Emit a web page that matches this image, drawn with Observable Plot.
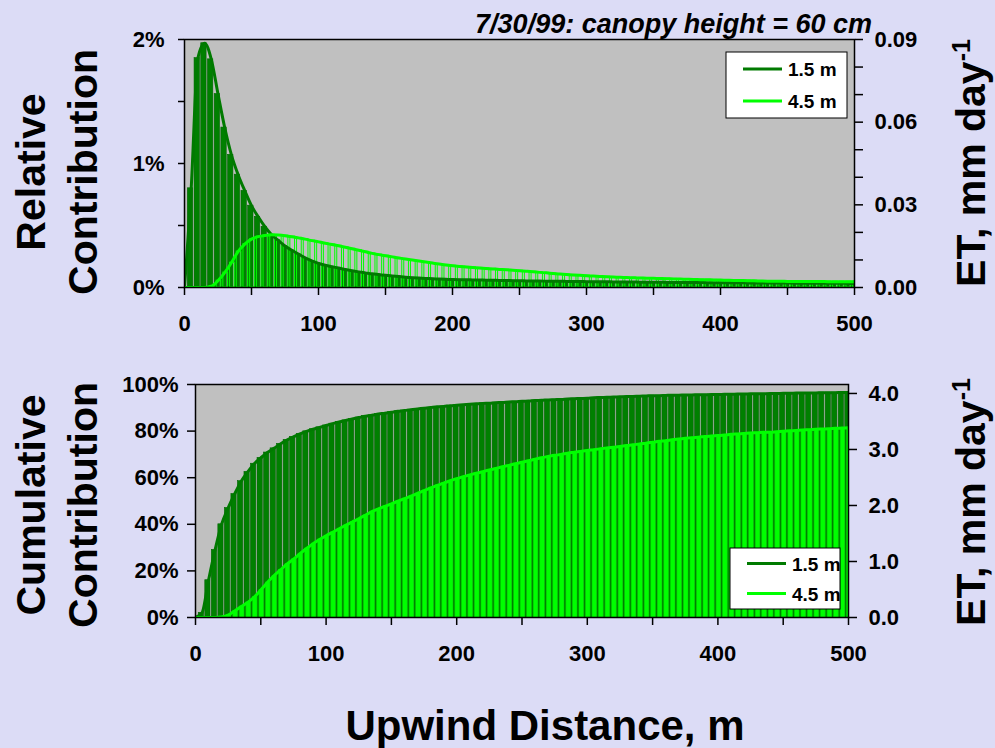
<!DOCTYPE html>
<html>
<head>
<meta charset="utf-8">
<script src="https://cdn.jsdelivr.net/npm/d3@7"></script>
<script src="https://cdn.jsdelivr.net/npm/@observablehq/plot@0.6"></script>
<style>
  body { margin: 0; background: #dcdcf6; }
  #fig { position: relative; width: 995px; height: 748px; background: #dcdcf6;
         font-family: "Liberation Sans", Arial, sans-serif; font-weight: bold; }
  #fig > svg { position: absolute; left: 0; }
</style>
</head>
<body>
<div id="fig"></div>
<script>
// Upwind distance of each footprint column, m
const distance = d3.range(0, 501, 5);

// Relative contribution (% per m) for the two measurement heights
const rel15 = [
  0, 0.8, 1.85, 1.97, 1.84, 1.56, 1.29, 1.07, 0.91, 0.78,
  0.66, 0.57, 0.49, 0.425, 0.38, 0.335, 0.30, 0.27, 0.24, 0.215,
  0.195, 0.18, 0.168, 0.157, 0.145, 0.135, 0.126, 0.118, 0.11, 0.104,
  0.098, 0.093, 0.088, 0.083, 0.079, 0.076, 0.073, 0.071, 0.068, 0.066,
  0.064, 0.063, 0.062, 0.061, 0.060, 0.059, 0.058, 0.057, 0.056, 0.055,
  0.054, 0.053, 0.052, 0.052, 0.051, 0.050, 0.050, 0.049, 0.048, 0.048,
  0.047, 0.047, 0.046, 0.046, 0.045, 0.045, 0.044, 0.044, 0.043, 0.043,
  0.042, 0.042, 0.041, 0.041, 0.041, 0.040, 0.040, 0.040, 0.039, 0.039,
  0.039, 0.038, 0.038, 0.038, 0.037, 0.037, 0.037, 0.036, 0.036, 0.036,
  0.036, 0.035, 0.035, 0.035, 0.035, 0.034, 0.034, 0.034, 0.034, 0.033,
  0.033
];
const rel45 = [
  0, 0, 0, 0, 0.01, 0.055, 0.12, 0.20, 0.29, 0.35,
  0.39, 0.41, 0.42, 0.425, 0.423, 0.418, 0.41, 0.40, 0.39, 0.378,
  0.368, 0.357, 0.347, 0.336, 0.324, 0.312, 0.30, 0.288, 0.275, 0.265,
  0.256, 0.247, 0.238, 0.229, 0.221, 0.213, 0.205, 0.197, 0.189, 0.182,
  0.175, 0.170, 0.166, 0.162, 0.158, 0.154, 0.150, 0.146, 0.143, 0.139,
  0.135, 0.131, 0.127, 0.122, 0.118, 0.113, 0.109, 0.105, 0.101, 0.098,
  0.095, 0.092, 0.089, 0.086, 0.084, 0.082, 0.080, 0.078, 0.077, 0.075,
  0.074, 0.072, 0.071, 0.069, 0.068, 0.066, 0.065, 0.063, 0.062, 0.061,
  0.060, 0.058, 0.057, 0.056, 0.055, 0.054, 0.052, 0.051, 0.050, 0.050,
  0.049, 0.049, 0.049, 0.048, 0.048, 0.048, 0.047, 0.047, 0.047, 0.047,
  0.047
];

// Cumulative contribution (%) for the two measurement heights
const cum15 = [
  0, 2, 16, 29, 40, 47, 53, 58.5, 62.5, 66,
  68.5, 70.8, 72.6, 74.5, 76.2, 77.5, 78.8, 79.9, 80.8, 81.6,
  82.4, 83.2, 83.9, 84.6, 85.2, 85.8, 86.4, 86.8, 87.3, 87.7,
  88.1, 88.5, 88.8, 89.2, 89.5, 89.8, 90.1, 90.4, 90.6, 90.9,
  91.1, 91.3, 91.5, 91.7, 91.9, 92.0, 92.2, 92.3, 92.5, 92.6,
  92.8, 92.9, 93.1, 93.2, 93.4, 93.5, 93.6, 93.8, 93.9, 94.0,
  94.1, 94.3, 94.4, 94.5, 94.6, 94.7, 94.8, 94.9, 95.0, 95.1,
  95.2, 95.2, 95.3, 95.4, 95.4, 95.5, 95.5, 95.6, 95.6, 95.7,
  95.7, 95.8, 95.8, 95.9, 95.9, 96.0, 96.0, 96.0, 96.1, 96.1,
  96.2, 96.2, 96.3, 96.3, 96.4, 96.4, 96.5, 96.5, 96.5, 96.6,
  96.6
];
const cum45 = [
  0, 0, 0, 0, 0.2, 1.0, 2.8, 4.7, 6.5, 8.8,
  11.8, 15.0, 17.9, 20.4, 22.9, 25.0, 27.4, 29.6, 31.7, 33.5,
  35.1, 36.6, 38.1, 39.6, 41.0, 42.4, 43.9, 45.4, 46.6, 47.7,
  48.8, 49.9, 51.0, 52.1, 53.3, 54.5, 55.6, 56.7, 57.7, 58.7,
  59.6, 60.4, 61.2, 61.9, 62.6, 63.3, 64.0, 64.7, 65.3, 66.0,
  66.6, 67.3, 67.9, 68.6, 69.1, 69.6, 70.0, 70.5, 70.9, 71.3,
  71.7, 72.0, 72.4, 72.8, 73.1, 73.4, 73.8, 74.1, 74.5, 74.8,
  75.2, 75.6, 75.9, 76.3, 76.6, 76.9, 77.2, 77.4, 77.7, 77.9,
  78.1, 78.3, 78.6, 78.8, 79.0, 79.2, 79.3, 79.5, 79.5, 79.7,
  79.9, 80.1, 80.3, 80.5, 80.6, 80.8, 80.9, 81.0, 81.2, 81.3,
  81.4
];

// Axis ticks and labels
const xTicks = [0, 50, 100, 150, 200, 250, 300, 350, 400, 450, 500];
const relTicks = [0, 0.5, 1, 1.5, 2];
const cumTicks = [0, 20, 40, 60, 80, 100];
const etTopTicks = [0, 0.01, 0.02, 0.03, 0.04, 0.05, 0.06, 0.07, 0.08, 0.09];
const etTopLabels = ["0.00", "", "", "0.03", "", "", "0.06", "", "", "0.09"];
const etBotTicks = [0, 1, 2, 3, 4];
const etBotLabels = ["0.0", "1.0", "2.0", "3.0", "4.0"];
const series = ["1.5 m", "4.5 m"];
const seriesColors = ["#007a00", "#00ff00"];

// ET (mm/day) equivalent of one percent on each panel
const etPerPctTop = 0.09 / 2;
const etPerPctBot = 4.16 / 100;

const rows = distance.map((d, i) => ({d, rel15: rel15[i], rel45: rel45[i], cum15: cum15[i], cum45: cum45[i]}));

const dark = "#008000", darkEdge = "#006400", lime = "#00ff00";
const font = `"Liberation Sans", Arial, sans-serif`;
const baseStyle = {background: "transparent", fontFamily: font, fontWeight: "bold", fontSize: "22px", color: "#000", overflow: "visible"};

function xAxis() {
  return Plot.axisX({ticks: xTicks, tickFormat: d => d % 100 === 0 ? String(d) : "", tickSize: 8, tickPadding: 20, label: null, strokeWidth: 1.5});
}

// Upper panel: relative contribution
const topPlot = Plot.plot({
  width: 995, height: 340,
  marginTop: 39, marginBottom: 53, marginLeft: 184, marginRight: 141,
  x: {domain: [0, 500], axis: null},
  y: {domain: [0, 2], axis: null},
  style: baseStyle,
  marks: [
    Plot.frame({fill: "#c0c0c0"}),
    Plot.rect(rows.filter(r => r.rel15 > 0), {x1: r => r.d - 2.5, x2: r => r.d + 1.5, y1: 0, y2: "rel15", fill: dark, stroke: darkEdge, strokeWidth: 0.6, clip: true}),
    Plot.rect(rows.filter(r => r.rel45 > 0), {x1: r => r.d - 1, x2: r => r.d + 2.5, y1: 0, y2: "rel45", fill: "none", stroke: lime, strokeWidth: 1, clip: true}),
    Plot.line(rows, {x: "d", y: "rel15", stroke: seriesColors[0], strokeWidth: 3, curve: "monotone-x", clip: true}),
    Plot.line(rows, {x: "d", y: "rel45", stroke: seriesColors[1], strokeWidth: 3, curve: "monotone-x", clip: true}),
    Plot.frame({stroke: "#000", strokeWidth: 1.5}),
    xAxis(),
    Plot.axisY({anchor: "left", ticks: relTicks, tickFormat: d => Number.isInteger(d) ? d + "%" : "", tickSize: 6, tickPadding: 14, label: null, strokeWidth: 1.5}),
    Plot.axisY({anchor: "right", ticks: etTopTicks.map(v => v / etPerPctTop),
      tickFormat: d => etTopLabels[Math.round(d * etPerPctTop * 100)], tickSize: 8, tickPadding: 12, label: null, strokeWidth: 1.5})
  ]
});
topPlot.style.top = "0px";

// Lower panel: cumulative contribution
const botPlot = Plot.plot({
  width: 995, height: 340,
  marginTop: 39, marginBottom: 68, marginLeft: 195, marginRight: 147,
  x: {domain: [0, 500], axis: null},
  y: {domain: [0, 100], axis: null},
  style: baseStyle,
  marks: [
    Plot.frame({fill: "#c0c0c0"}),
    Plot.rect(rows.filter(r => r.cum15 > 0), {x1: r => r.d - 2.5, x2: r => r.d + 1.5, y1: 0, y2: "cum15", fill: dark, stroke: darkEdge, strokeWidth: 0.6, clip: true}),
    Plot.rect(rows.filter(r => r.cum45 > 0), {x1: r => r.d - 1, x2: r => r.d + 2.5, y1: 0, y2: "cum45", fill: lime, stroke: "#00d400", strokeWidth: 0.6, clip: true}),
    Plot.line(rows, {x: "d", y: "cum15", stroke: seriesColors[0], strokeWidth: 3, curve: "monotone-x", clip: true}),
    Plot.line(rows, {x: "d", y: "cum45", stroke: seriesColors[1], strokeWidth: 3, curve: "monotone-x", clip: true}),
    Plot.frame({stroke: "#000", strokeWidth: 1.5}),
    xAxis(),
    Plot.axisY({anchor: "left", ticks: cumTicks, tickFormat: d => d + "%", tickSize: 8, tickPadding: 9, label: null, strokeWidth: 1.5}),
    Plot.axisY({anchor: "right", ticks: etBotTicks.map(v => v / etPerPctBot),
      tickFormat: d => etBotLabels[Math.round(d * etPerPctBot)], tickSize: 8, tickPadding: 12, label: null, strokeWidth: 1.5})
  ]
});
botPlot.style.top = "345px";

const fig = document.getElementById("fig");
fig.append(topPlot, botPlot);

// Titles and legends
const svg = d3.select(fig).append("svg")
  .attr("width", 995).attr("height", 748)
  .style("top", "0px")
  .attr("font-family", font).attr("font-weight", "bold").attr("fill", "#000");

function vTitle(x, y, text, sup) {
  const t = svg.append("text")
    .attr("transform", `translate(${x},${y}) rotate(-90)`)
    .attr("text-anchor", "middle").attr("font-size", 41);
  t.append("tspan").text(text);
  if (sup) t.append("tspan").attr("font-size", 25).attr("dy", -15).text(sup);
}
vTitle(45, 172, "Relative");
vTitle(97, 172, "Contribution");
vTitle(45, 505, "Cumulative");
vTitle(97, 505, "Contribution");
vTitle(985, 163, "ET, mm day", "-1");
vTitle(985, 502, "ET, mm day", "-1");

svg.append("text").attr("x", 545).attr("y", 740).attr("text-anchor", "middle")
  .attr("font-size", 42).text("Upwind Distance, m");

svg.append("text").attr("x", 872).attr("y", 33).attr("text-anchor", "end")
  .attr("font-size", 27).attr("font-style", "italic").text("7/30/99: canopy height = 60 cm");

function legend(x, y, w, h, rowGap) {
  const g = svg.append("g").attr("transform", `translate(${x},${y})`);
  g.append("rect").attr("width", w).attr("height", h).attr("fill", "#fff").attr("stroke", "#000").attr("stroke-width", 1);
  series.forEach((s, i) => {
    const cy = h / 2 + (i - 0.5) * rowGap;
    g.append("line").attr("x1", 17).attr("x2", 56).attr("y1", cy).attr("y2", cy)
      .attr("stroke", seriesColors[i]).attr("stroke-width", 3);
    g.append("text").attr("x", 62).attr("y", cy + 7).attr("font-size", 19).text(s);
  });
}
legend(726, 52, 121, 66, 32);
legend(730, 548, 110, 61, 30);
</script>
</body>
</html>
